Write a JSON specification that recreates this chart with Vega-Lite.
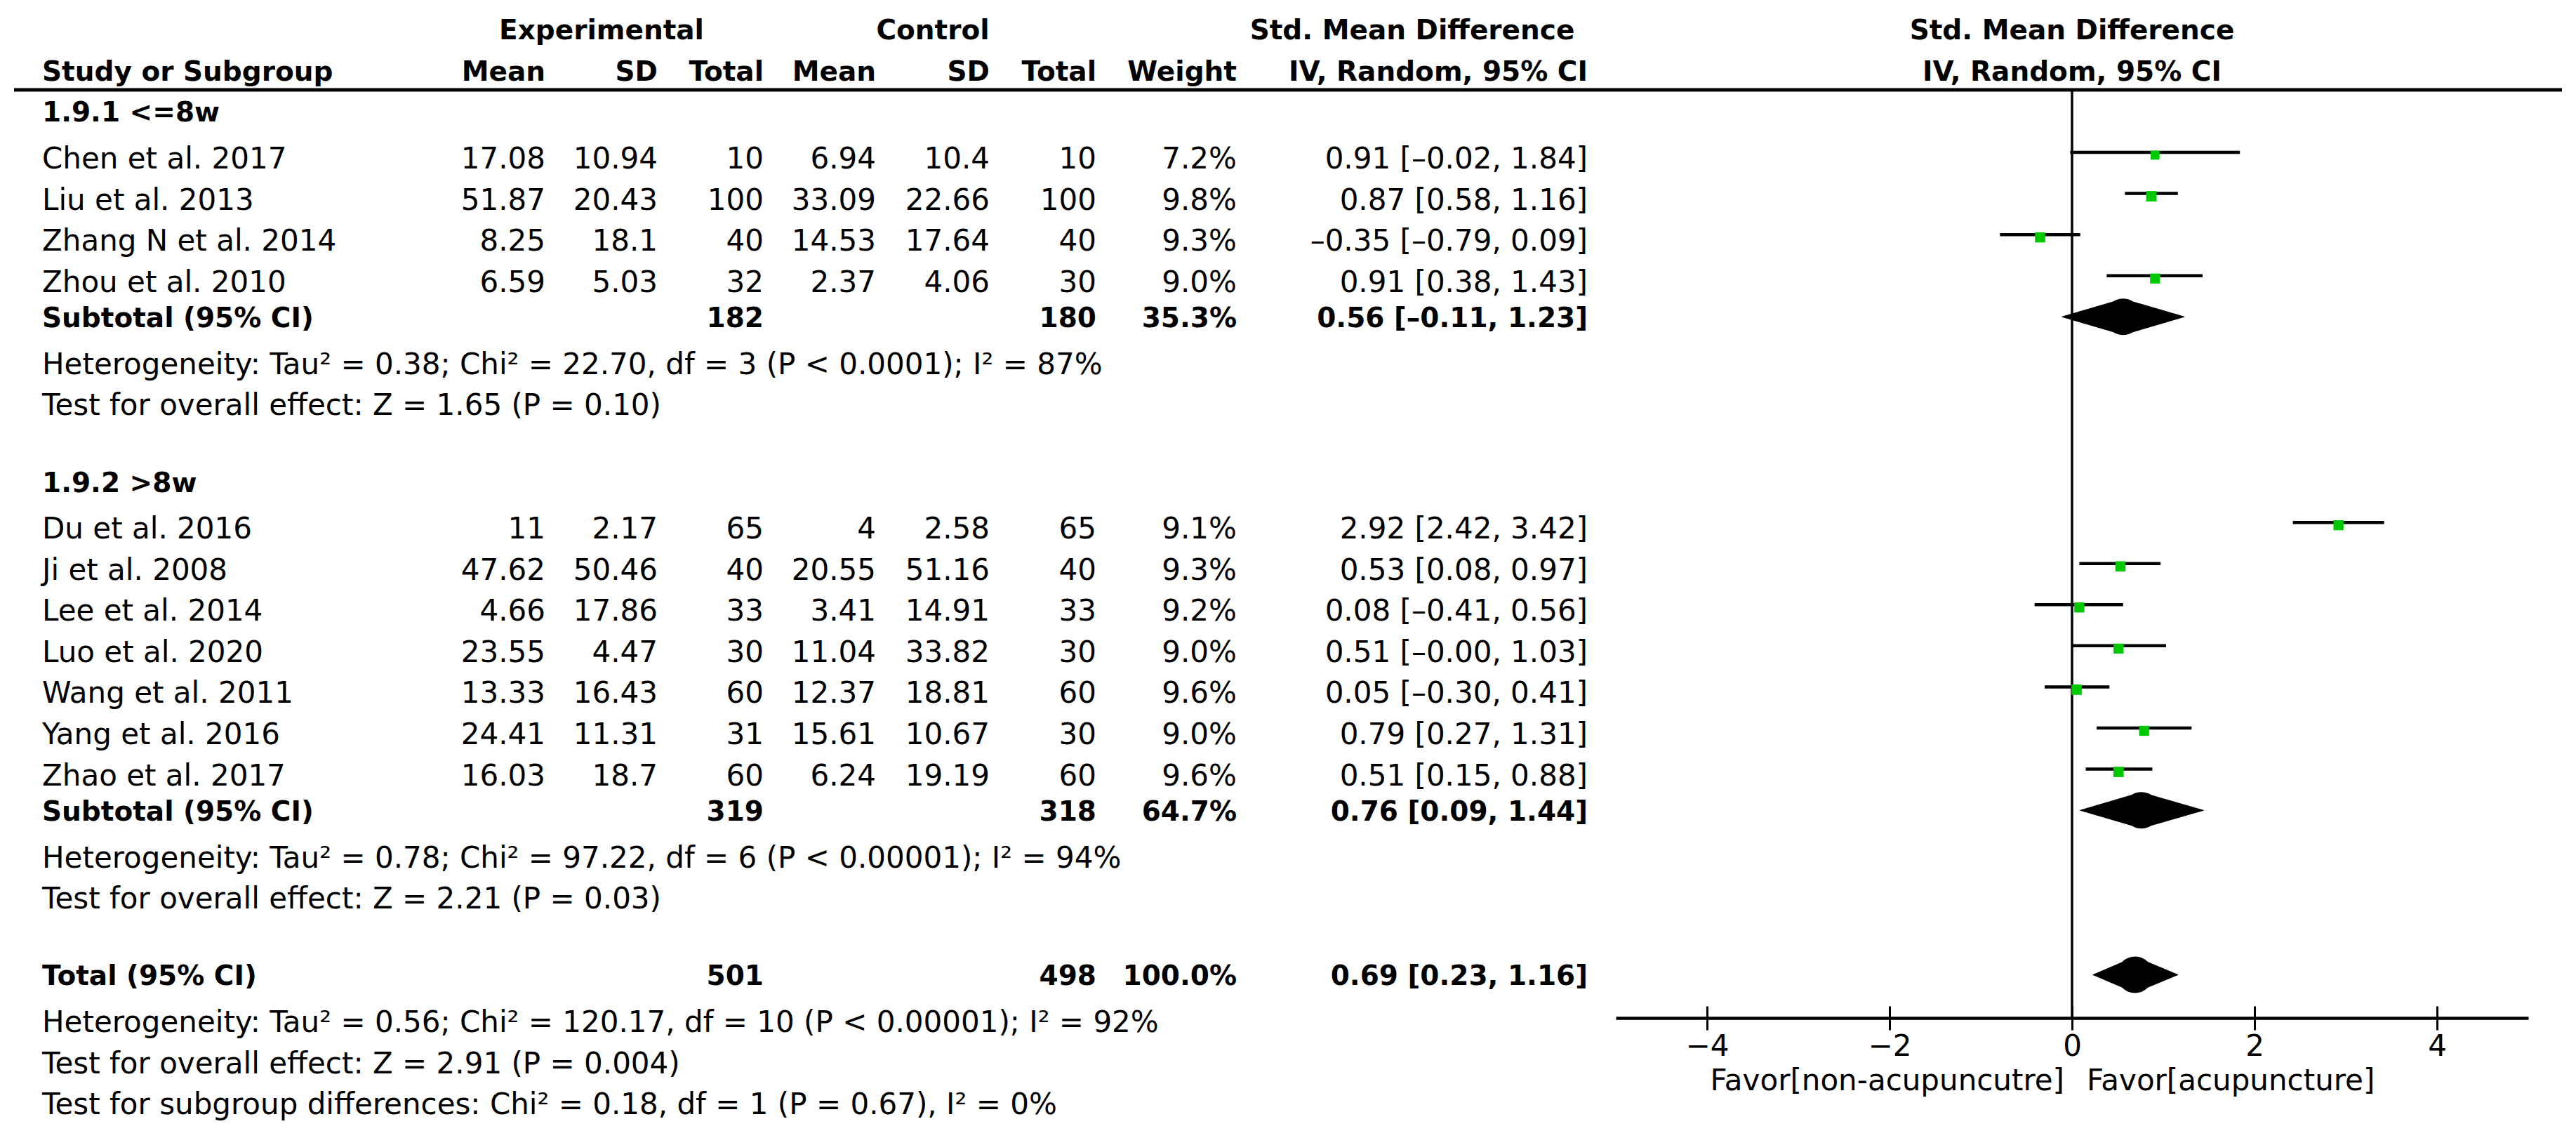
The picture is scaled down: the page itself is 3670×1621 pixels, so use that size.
{
"$schema":"https://vega.github.io/schema/vega-lite/v6.json",
"width":3670,"height":1621,"autosize":{"type":"none"},"padding":0,"background":"white",
"config":{"view":{"stroke":null},"text":{"font":"DejaVu Sans","fontSize":42,"fill":"black"}},
"datasets":{
"table":[
{"row":2,"kind":"group","label":"1.9.1 <=8w"},
{"row":3,"kind":"study","label":"Chen et al. 2017","eMean":17.08,"eSD":10.94,"eTot":10,"cMean":6.94,"cSD":10.4,"cTot":10,"weight":"7.2%","w":7.2,"ci":"0.91 [–0.02, 1.84]","est":0.91,"lo":-0.02,"hi":1.84},
{"row":4,"kind":"study","label":"Liu et al. 2013","eMean":51.87,"eSD":20.43,"eTot":100,"cMean":33.09,"cSD":22.66,"cTot":100,"weight":"9.8%","w":9.8,"ci":"0.87 [0.58, 1.16]","est":0.87,"lo":0.58,"hi":1.16},
{"row":5,"kind":"study","label":"Zhang N et al. 2014","eMean":8.25,"eSD":18.1,"eTot":40,"cMean":14.53,"cSD":17.64,"cTot":40,"weight":"9.3%","w":9.3,"ci":"–0.35 [–0.79, 0.09]","est":-0.35,"lo":-0.79,"hi":0.09},
{"row":6,"kind":"study","label":"Zhou et al. 2010","eMean":6.59,"eSD":5.03,"eTot":32,"cMean":2.37,"cSD":4.06,"cTot":30,"weight":"9.0%","w":9.0,"ci":"0.91 [0.38, 1.43]","est":0.91,"lo":0.38,"hi":1.43},
{"row":7,"kind":"sub","label":"Subtotal (95% CI)","eTot":182,"cTot":180,"weight":"35.3%","ci":"0.56 [–0.11, 1.23]","est":0.56,"lo":-0.11,"hi":1.23},
{"row":8,"kind":"note","label":"Heterogeneity: Tau² = 0.38; Chi² = 22.70, df = 3 (P < 0.0001); I² = 87%"},
{"row":9,"kind":"note","label":"Test for overall effect: Z = 1.65 (P = 0.10)"},
{"row":11,"kind":"group","label":"1.9.2 >8w"},
{"row":12,"kind":"study","label":"Du et al. 2016","eMean":11,"eSD":2.17,"eTot":65,"cMean":4,"cSD":2.58,"cTot":65,"weight":"9.1%","w":9.1,"ci":"2.92 [2.42, 3.42]","est":2.92,"lo":2.42,"hi":3.42},
{"row":13,"kind":"study","label":"Ji et al. 2008","eMean":47.62,"eSD":50.46,"eTot":40,"cMean":20.55,"cSD":51.16,"cTot":40,"weight":"9.3%","w":9.3,"ci":"0.53 [0.08, 0.97]","est":0.53,"lo":0.08,"hi":0.97},
{"row":14,"kind":"study","label":"Lee et al. 2014","eMean":4.66,"eSD":17.86,"eTot":33,"cMean":3.41,"cSD":14.91,"cTot":33,"weight":"9.2%","w":9.2,"ci":"0.08 [–0.41, 0.56]","est":0.08,"lo":-0.41,"hi":0.56},
{"row":15,"kind":"study","label":"Luo et al. 2020","eMean":23.55,"eSD":4.47,"eTot":30,"cMean":11.04,"cSD":33.82,"cTot":30,"weight":"9.0%","w":9.0,"ci":"0.51 [–0.00, 1.03]","est":0.51,"lo":0,"hi":1.03},
{"row":16,"kind":"study","label":"Wang et al. 2011","eMean":13.33,"eSD":16.43,"eTot":60,"cMean":12.37,"cSD":18.81,"cTot":60,"weight":"9.6%","w":9.6,"ci":"0.05 [–0.30, 0.41]","est":0.05,"lo":-0.30,"hi":0.41},
{"row":17,"kind":"study","label":"Yang et al. 2016","eMean":24.41,"eSD":11.31,"eTot":31,"cMean":15.61,"cSD":10.67,"cTot":30,"weight":"9.0%","w":9.0,"ci":"0.79 [0.27, 1.31]","est":0.79,"lo":0.27,"hi":1.31},
{"row":18,"kind":"study","label":"Zhao et al. 2017","eMean":16.03,"eSD":18.7,"eTot":60,"cMean":6.24,"cSD":19.19,"cTot":60,"weight":"9.6%","w":9.6,"ci":"0.51 [0.15, 0.88]","est":0.51,"lo":0.15,"hi":0.88},
{"row":19,"kind":"sub","label":"Subtotal (95% CI)","eTot":319,"cTot":318,"weight":"64.7%","ci":"0.76 [0.09, 1.44]","est":0.76,"lo":0.09,"hi":1.44},
{"row":20,"kind":"note","label":"Heterogeneity: Tau² = 0.78; Chi² = 97.22, df = 6 (P < 0.00001); I² = 94%"},
{"row":21,"kind":"note","label":"Test for overall effect: Z = 2.21 (P = 0.03)"},
{"row":23,"kind":"total","label":"Total (95% CI)","eTot":501,"cTot":498,"weight":"100.0%","ci":"0.69 [0.23, 1.16]","est":0.69,"lo":0.23,"hi":1.16},
{"row":24,"kind":"note","label":"Heterogeneity: Tau² = 0.56; Chi² = 120.17, df = 10 (P < 0.00001); I² = 92%"},
{"row":25,"kind":"note","label":"Test for overall effect: Z = 2.91 (P = 0.004)"},
{"row":26,"kind":"note","label":"Test for subgroup differences: Chi² = 0.18, df = 1 (P = 0.67), I² = 0%"}
],
"columns":[{"key":"eMean","col":1},{"key":"eSD","col":2},{"key":"eTot","col":3},{"key":"cMean","col":4},{"key":"cSD","col":5},{"key":"cTot","col":6},{"key":"weight","col":7},{"key":"ci","col":8}],
"headers":[
{"row":0,"col":1.5,"text":"Experimental"},
{"row":0,"col":4.5,"text":"Control"},
{"row":0,"col":7.5,"text":"Std. Mean Difference"},
{"row":1,"col":0,"text":"Study or Subgroup"},
{"row":1,"col":1,"text":"Mean"},
{"row":1,"col":2,"text":"SD"},
{"row":1,"col":3,"text":"Total"},
{"row":1,"col":4,"text":"Mean"},
{"row":1,"col":5,"text":"SD"},
{"row":1,"col":6,"text":"Total"},
{"row":1,"col":7,"text":"Weight"},
{"row":1,"col":8,"text":"IV, Random, 95% CI"}
],
"forestHeaders":[{"row":0,"text":"Std. Mean Difference"},{"row":1,"text":"IV, Random, 95% CI"}],
"favor":[{"side":"left","text":"Favor[non-acupuncutre]"},{"side":"right","text":"Favor[acupuncture]"}],
"ruleAnchor":[{"id":1}]
},
"layer":[
{"layer":[
 {"data":{"name":"table"},"transform":[{"filter":"datum.kind == 'study' || datum.kind == 'note'"}],
  "mark":{"type":"text","align":"left","baseline":"alphabetic","dy":23},
  "encoding":{"x":{"datum":0,"type":"quantitative","scale":{"domain":[-1,0,1,2,3,4,5,6,7,8,9],"range":[20,60,777,937,1088,1248,1410,1562,1762,2262,3650],"nice":false,"zero":false},"axis":null},
   "y":{"field":"row","type":"quantitative","scale":{"domain":[-0.705,26.971],"range":[0,1621],"nice":false,"zero":false},"axis":null},
   "text":{"field":"label","type":"nominal"}}},
 {"data":{"name":"table"},"transform":[{"filter":"datum.kind == 'group' || datum.kind == 'sub' || datum.kind == 'total'"}],
  "mark":{"type":"text","align":"left","baseline":"alphabetic","dy":15,"fontWeight":"bold","fontSize":39},
  "encoding":{"x":{"datum":0,"type":"quantitative","scale":{"domain":[-1,0,1,2,3,4,5,6,7,8,9],"range":[20,60,777,937,1088,1248,1410,1562,1762,2262,3650],"nice":false,"zero":false},"axis":null},
   "y":{"field":"row","type":"quantitative","scale":{"domain":[-0.705,26.971],"range":[0,1621],"nice":false,"zero":false},"axis":null},
   "text":{"field":"label","type":"nominal"}}},
 {"data":{"name":"table"},"transform":[{"filter":"datum.kind == 'study'"},{"fold":["eMean","eSD","eTot","cMean","cSD","cTot","weight","ci"],"as":["key","value"]},{"lookup":"key","from":{"data":{"name":"columns"},"key":"key","fields":["col"]}}],
  "mark":{"type":"text","align":"right","baseline":"alphabetic","dy":23},
  "encoding":{"x":{"field":"col","type":"quantitative","scale":{"domain":[-1,0,1,2,3,4,5,6,7,8,9],"range":[20,60,777,937,1088,1248,1410,1562,1762,2262,3650],"nice":false,"zero":false},"axis":null},
   "y":{"field":"row","type":"quantitative","scale":{"domain":[-0.705,26.971],"range":[0,1621],"nice":false,"zero":false},"axis":null},
   "text":{"field":"value","type":"nominal"}}},
 {"data":{"name":"table"},"transform":[{"filter":"datum.kind == 'sub' || datum.kind == 'total'"},{"fold":["eTot","cTot","weight","ci"],"as":["key","value"]},{"filter":"isValid(datum.value)"},{"lookup":"key","from":{"data":{"name":"columns"},"key":"key","fields":["col"]}}],
  "mark":{"type":"text","align":"right","baseline":"alphabetic","dy":15,"fontWeight":"bold","fontSize":39},
  "encoding":{"x":{"field":"col","type":"quantitative","scale":{"domain":[-1,0,1,2,3,4,5,6,7,8,9],"range":[20,60,777,937,1088,1248,1410,1562,1762,2262,3650],"nice":false,"zero":false},"axis":null},
   "y":{"field":"row","type":"quantitative","scale":{"domain":[-0.705,26.971],"range":[0,1621],"nice":false,"zero":false},"axis":null},
   "text":{"field":"value","type":"nominal"}}},
 {"data":{"name":"headers"},"transform":[{"filter":"datum.col == 0"}],
  "mark":{"type":"text","align":"left","baseline":"alphabetic","dy":15,"fontWeight":"bold","fontSize":39},
  "encoding":{"x":{"field":"col","type":"quantitative","scale":{"domain":[-1,0,1,2,3,4,5,6,7,8,9],"range":[20,60,777,937,1088,1248,1410,1562,1762,2262,3650],"nice":false,"zero":false},"axis":null},
   "y":{"field":"row","type":"quantitative","scale":{"domain":[-0.705,26.971],"range":[0,1621],"nice":false,"zero":false},"axis":null},
   "text":{"field":"text","type":"nominal"}}},
 {"data":{"name":"headers"},"transform":[{"filter":"datum.col >= 1 && datum.col % 1 == 0"}],
  "mark":{"type":"text","align":"right","baseline":"alphabetic","dy":15,"fontWeight":"bold","fontSize":39},
  "encoding":{"x":{"field":"col","type":"quantitative","scale":{"domain":[-1,0,1,2,3,4,5,6,7,8,9],"range":[20,60,777,937,1088,1248,1410,1562,1762,2262,3650],"nice":false,"zero":false},"axis":null},
   "y":{"field":"row","type":"quantitative","scale":{"domain":[-0.705,26.971],"range":[0,1621],"nice":false,"zero":false},"axis":null},
   "text":{"field":"text","type":"nominal"}}},
 {"data":{"name":"headers"},"transform":[{"filter":"datum.col % 1 != 0"}],
  "mark":{"type":"text","align":"center","baseline":"alphabetic","dy":15,"fontWeight":"bold","fontSize":39},
  "encoding":{"x":{"field":"col","type":"quantitative","scale":{"domain":[-1,0,1,2,3,4,5,6,7,8,9],"range":[20,60,777,937,1088,1248,1410,1562,1762,2262,3650],"nice":false,"zero":false},"axis":null},
   "y":{"field":"row","type":"quantitative","scale":{"domain":[-0.705,26.971],"range":[0,1621],"nice":false,"zero":false},"axis":null},
   "text":{"field":"text","type":"nominal"}}},
 {"data":{"name":"ruleAnchor"},
  "mark":{"type":"rule","strokeWidth":5,"color":"black"},
  "encoding":{"x":{"datum":-1,"type":"quantitative","scale":{"domain":[-1,0,1,2,3,4,5,6,7,8,9],"range":[20,60,777,937,1088,1248,1410,1562,1762,2262,3650],"nice":false,"zero":false},"axis":null},
   "x2":{"datum":9},
   "y":{"datum":1.48,"type":"quantitative","scale":{"domain":[-0.705,26.971],"range":[0,1621],"nice":false,"zero":false},"axis":null}}}
]},
{"layer":[
 {"data":{"name":"ruleAnchor"},
  "mark":{"type":"rule","strokeWidth":3.5,"color":"black"},
  "encoding":{"x":{"datum":0,"type":"quantitative","scale":{"domain":[-5,5],"range":[2302,3602],"nice":false,"zero":false},"axis":null},
   "y":{"datum":1.48,"type":"quantitative","scale":{"domain":[-0.705,26.971],"range":[0,1621],"nice":false,"zero":false},"axis":null},
   "y2":{"datum":24.05}}},
 {"data":{"name":"table"},"transform":[{"filter":"datum.kind == 'study'"}],
  "mark":{"type":"rule","strokeWidth":4.5,"color":"black"},
  "encoding":{"x":{"field":"lo","type":"quantitative","scale":{"domain":[-5,5],"range":[2302,3602],"nice":false,"zero":false},
    "axis":{"orient":"bottom","offset":-171,"values":[-4,-2,0,2,4],"domainColor":"black","domainWidth":4.5,"tickColor":"black","tickWidth":3,"tickSize":17,"labelFont":"DejaVu Sans","labelFontSize":42,"labelColor":"black","labelPadding":3,"title":null,"grid":false,"labelFlush":false,"labelOverlap":false}},
   "x2":{"field":"hi"},
   "y":{"field":"row","type":"quantitative","scale":{"domain":[-0.705,26.971],"range":[0,1621],"nice":false,"zero":false},"axis":null}}},
 {"data":{"name":"table"},"transform":[{"filter":"datum.kind == 'study'"}],
  "mark":{"type":"point","shape":"square","filled":true,"color":"#00c800","opacity":1,"strokeWidth":0,"yOffset":4},
  "encoding":{"x":{"field":"est","type":"quantitative","scale":{"domain":[-5,5],"range":[2302,3602],"nice":false,"zero":false},
    "axis":{"orient":"bottom","offset":-188,"values":[-4,-2,0,2,4],"domain":false,"labels":false,"tickColor":"black","tickWidth":3,"tickSize":17,"title":null,"grid":false}},
   "y":{"field":"row","type":"quantitative","scale":{"domain":[-0.705,26.971],"range":[0,1621],"nice":false,"zero":false},"axis":null},
   "size":{"field":"w","type":"quantitative","scale":{"domain":[0,10],"range":[0,225]},"legend":null}}},
 {"data":{"name":"table"},"transform":[{"filter":"datum.kind == 'sub' || datum.kind == 'total'"},{"fold":["lo","est","hi"],"as":["vk","vx"]}],
  "mark":{"type":"trail","color":"black"},
  "encoding":{"x":{"field":"vx","type":"quantitative","scale":{"domain":[-5,5],"range":[2302,3602],"nice":false,"zero":false},"axis":null},
   "y":{"field":"row","type":"quantitative","scale":{"domain":[-0.705,26.971],"range":[0,1621],"nice":false,"zero":false},"axis":null},
   "size":{"field":"vk","type":"nominal","scale":{"type":"ordinal","domain":["lo","est","hi"],"range":[0,52,0]},"legend":null},
   "detail":{"field":"row","type":"nominal"}}},
 {"data":{"name":"forestHeaders"},
  "mark":{"type":"text","align":"center","baseline":"alphabetic","dy":15,"fontWeight":"bold","fontSize":39},
  "encoding":{"x":{"datum":0,"type":"quantitative","scale":{"domain":[-5,5],"range":[2302,3602],"nice":false,"zero":false},"axis":null},
   "y":{"field":"row","type":"quantitative","scale":{"domain":[-0.705,26.971],"range":[0,1621],"nice":false,"zero":false},"axis":null},
   "text":{"field":"text","type":"nominal"}}},
 {"data":{"name":"favor"},"transform":[{"filter":"datum.side == 'left'"}],
  "mark":{"type":"text","align":"right","baseline":"alphabetic","dy":23,"dx":-11},
  "encoding":{"x":{"datum":0,"type":"quantitative","scale":{"domain":[-5,5],"range":[2302,3602],"nice":false,"zero":false},"axis":null},
   "y":{"datum":25.42,"type":"quantitative","scale":{"domain":[-0.705,26.971],"range":[0,1621],"nice":false,"zero":false},"axis":null},
   "text":{"field":"text","type":"nominal"}}},
 {"data":{"name":"favor"},"transform":[{"filter":"datum.side == 'right'"}],
  "mark":{"type":"text","align":"left","baseline":"alphabetic","dy":23,"dx":21},
  "encoding":{"x":{"datum":0,"type":"quantitative","scale":{"domain":[-5,5],"range":[2302,3602],"nice":false,"zero":false},"axis":null},
   "y":{"datum":25.42,"type":"quantitative","scale":{"domain":[-0.705,26.971],"range":[0,1621],"nice":false,"zero":false},"axis":null},
   "text":{"field":"text","type":"nominal"}}}
],
"resolve":{"scale":{"size":"independent"},"axis":{"x":"independent"}}}
],
"resolve":{"scale":{"x":"independent"}}
}
